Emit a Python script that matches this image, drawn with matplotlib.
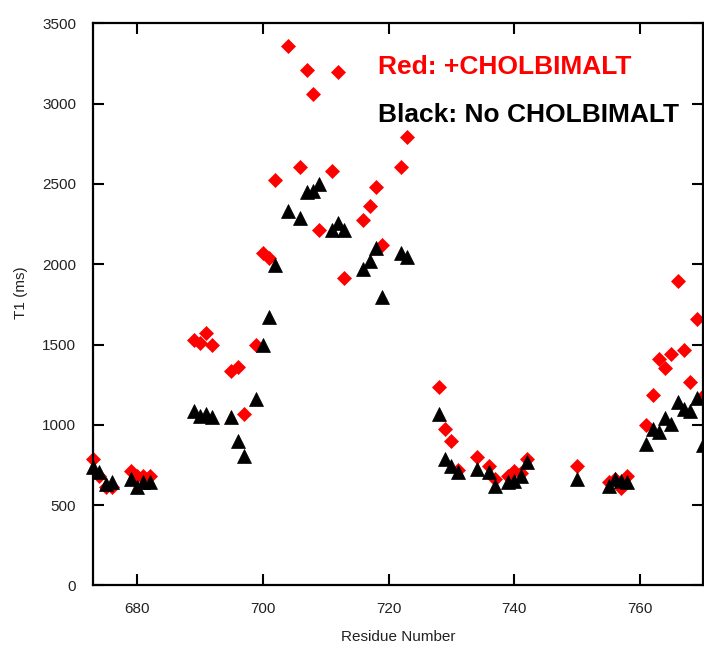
import matplotlib
matplotlib.use("Agg")
import matplotlib.pyplot as plt

plt.rcParams['font.family'] = ['Liberation Sans', 'DejaVu Sans']

# T1 relaxation times (ms) per residue
red_res = [673, 674, 675, 676, 679, 680, 681, 682,
           689, 690, 691, 692, 695, 696, 697, 699, 700, 701, 702, 704,
           706, 707, 708, 709, 711, 712, 713, 716, 717, 718, 719, 722, 723,
           728, 729, 730, 731, 734, 736, 737, 739, 740, 741, 742, 750,
           755, 756, 757, 758, 761, 762, 763, 764, 765, 766, 767, 768, 769, 770]
red_t1 = [790, 680, 610, 610, 710, 680, 680, 680,
          1525, 1508, 1574, 1494, 1333, 1360, 1069, 1498, 2069, 2041, 2524, 3359,
          2606, 3211, 3060, 2214, 2577, 3196, 1915, 2272, 2363, 2478, 2121, 2602, 2792,
          1236, 976, 899, 720, 797, 745, 662, 683, 714, 700, 786, 745,
          642, 662, 605, 679, 998, 1188, 1409, 1354, 1440, 1896, 1467, 1265, 1657, 1180]

black_res = [673, 674, 675, 676, 679, 680, 681, 682,
             689, 690, 691, 692, 695, 696, 697, 699, 700, 701, 702, 704,
             706, 707, 708, 709, 711, 712, 713, 716, 717, 718, 719, 722, 723,
             728, 729, 730, 731, 734, 736, 737, 739, 740, 741, 742, 750,
             755, 756, 757, 758, 761, 762, 763, 764, 765, 766, 767, 768, 769, 770]
black_t1 = [735, 704, 631, 646, 662, 611, 646, 641,
            1085, 1058, 1065, 1050, 1050, 900, 807, 1158, 1498, 1669, 1993, 2329,
            2288, 2447, 2457, 2499, 2210, 2255, 2210, 1967, 2020, 2100, 1797, 2069, 2045,
            1065, 786, 745, 704, 724, 704, 617, 642, 652, 683, 770, 662,
            621, 662, 652, 642, 879, 972, 955, 1044, 1003, 1144, 1100, 1085, 1168, 873]

fig = plt.figure(figsize=(7.04, 6.47), dpi=100)
ax = fig.add_axes([0.132, 0.0951, 0.8665, 0.869])

ax.plot(red_res, red_t1, linestyle='none', marker='D', markersize=7.2,
        color='#ff0000', markeredgewidth=0.5, clip_on=False)
ax.plot(black_res, black_t1, linestyle='none', marker='^', markersize=9.6,
        color='black', markeredgewidth=0.5, clip_on=False)

ax.set_xlim(673, 770)
ax.set_ylim(0, 3500)
ax.set_xticks([680, 700, 720, 740, 760])
ax.set_yticks(range(0, 3501, 500))

for s in ax.spines.values():
    s.set_linewidth(1.6)
ax.tick_params(direction='in', length=8, width=1.5, top=True, right=True,
               labelsize=11, pad=12, labelcolor='#222222')

ax.set_xlabel('Residue Number', fontsize=11, color='#222222')
ax.set_ylabel('T1 (ms)', fontsize=11, color='#222222')
ax.xaxis.set_label_coords(0.5, -0.079)
ax.yaxis.set_label_coords(-0.107, 0.52)

ax.text(0.467, 0.909, 'Red: +CHOLBIMALT', transform=ax.transAxes, color='#ff0000',
        fontsize=19, fontweight='bold', ha='left', va='baseline')
ax.text(0.467, 0.825, 'Black: No CHOLBIMALT', transform=ax.transAxes, color='black',
        fontsize=19, fontweight='bold', ha='left', va='baseline')

fig.savefig('out.png', dpi=100)
